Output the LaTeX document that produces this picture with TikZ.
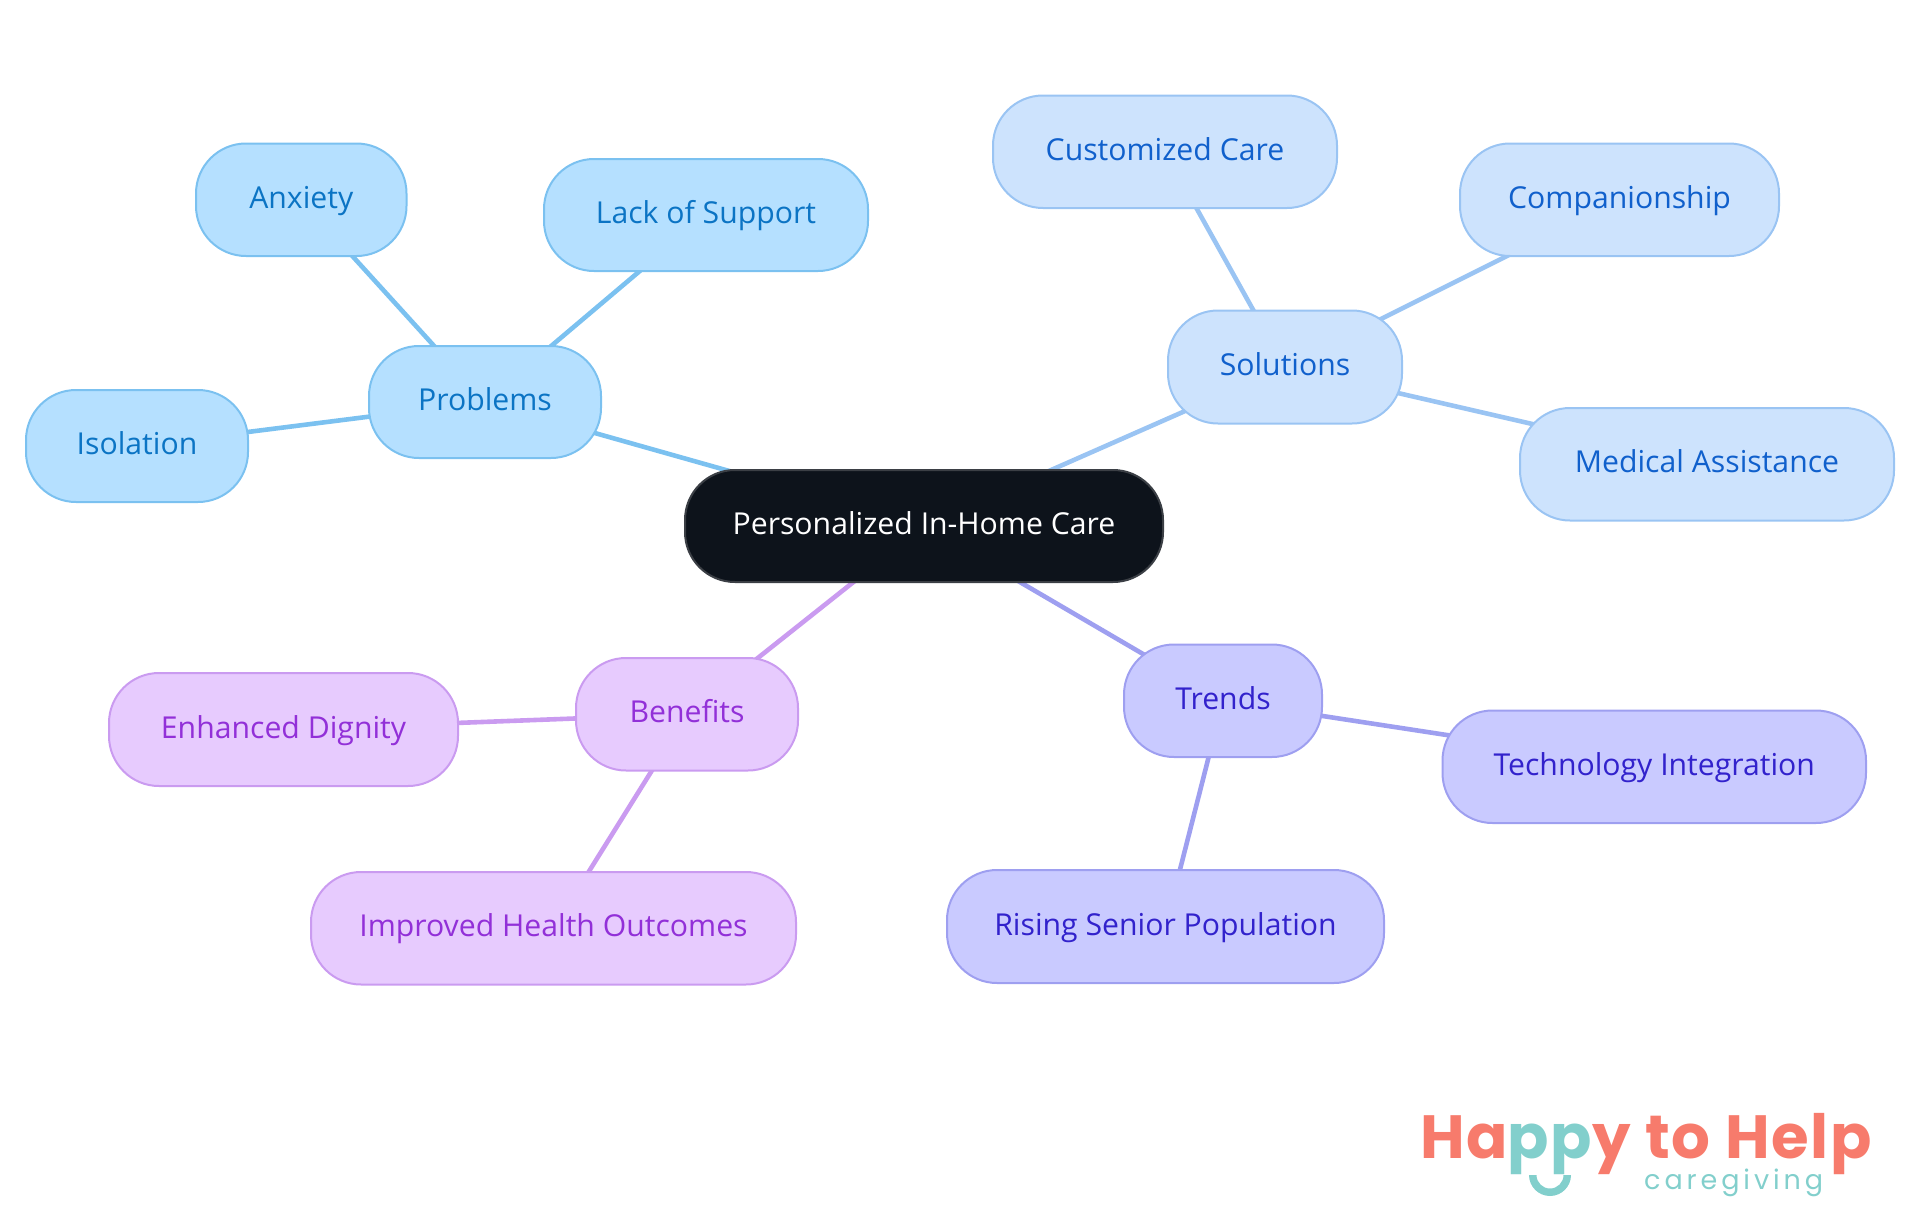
\documentclass[tikz,border=0pt]{standalone}
\usepackage{fontspec}
\setmainfont{Open Sans}
\newfontfamily\logofont[LetterSpace=2.7]{Poppins}
\newfontfamily\carefont[LetterSpace=14.5]{Poppins}
\usetikzlibrary{backgrounds}
\definecolor{rootfill}{HTML}{0D131B}\definecolor{rootline}{HTML}{3B3F45}
\definecolor{pfill}{HTML}{B5E0FF}\definecolor{pline}{HTML}{7BC1F0}\definecolor{ptext}{HTML}{0B74C4}
\definecolor{sfill}{HTML}{CDE3FD}\definecolor{sline}{HTML}{9AC4F3}\definecolor{stext}{HTML}{1060CC}
\definecolor{tfill}{HTML}{C9CAFF}\definecolor{tline}{HTML}{9E9FF0}\definecolor{ttext}{HTML}{3222CC}
\definecolor{bfill}{HTML}{E7CBFE}\definecolor{bline}{HTML}{CA9BF0}\definecolor{btext}{HTML}{9230D8}
\definecolor{salmon}{HTML}{F77B6C}\definecolor{teal}{HTML}{82CFCC}
\tikzset{
 pill/.style={rounded corners=50pt,line width=2pt,inner sep=0pt,text height=26pt,text depth=9pt,font=\fontsize{30.2}{34}\selectfont,anchor=center},
 rootpill/.style={pill,fill=rootfill,draw=rootline,text=white},
 ppill/.style={pill,fill=pfill,draw=pline,text=ptext},
 spill/.style={pill,fill=sfill,draw=sline,text=stext},
 tpill/.style={pill,fill=tfill,draw=tline,text=ttext},
 bpill/.style={pill,fill=bfill,draw=bline,text=btext},
 link/.style={line width=4.6pt},
}
\newcommand{\pillnode}[7]{\node[#2,minimum width=#5pt-#3pt,minimum height=#7pt-#6pt] (#1) at ({(#3+#5)/2},{(#6+#7)/2}) {#4};}
\begin{document}
\begin{tikzpicture}[x=1pt,y=-1pt]
\useasboundingbox (0,0) rectangle (1920,1215);
\pillnode{root}{rootpill}{685}{Personalized In-Home Care}{1163}{470}{582}
\pillnode{problems}{ppill}{369}{Problems}{601}{346}{458}
\pillnode{isolation}{ppill}{26}{Isolation}{248}{390}{502}
\pillnode{anxiety}{ppill}{196}{Anxiety}{406.5}{143.5}{256}
\pillnode{lack}{ppill}{544}{Lack of Support}{868}{159}{271}
\pillnode{solutions}{spill}{1168}{Solutions}{1402}{310.5}{423.5}
\pillnode{custom}{spill}{993}{Customized Care}{1337}{95.5}{208}
\pillnode{companion}{spill}{1460}{Companionship}{1779}{143.5}{256}
\pillnode{medical}{spill}{1520}{Medical Assistance}{1894}{408}{520.5}
\pillnode{trends}{tpill}{1124}{Trends}{1322}{644.5}{757}
\pillnode{tech}{tpill}{1442.5}{Technology Integration}{1866}{710.5}{823}
\pillnode{rising}{tpill}{947}{Rising Senior Population}{1384}{870}{983}
\pillnode{benefits}{bpill}{576}{Benefits}{798}{658}{770.5}
\pillnode{dignity}{bpill}{109}{Enhanced Dignity}{458}{673}{786}
\pillnode{improved}{bpill}{311}{Improved Health Outcomes}{796}{872}{984.5}
\begin{pgfonlayer}{background}
\draw[link,pline] (root.center) -- (problems.center);
\draw[link,pline] (problems.center) -- (isolation.center);
\draw[link,pline] (problems.center) -- (anxiety.center);
\draw[link,pline] (problems.center) -- (lack.center);
\draw[link,sline] (root.center) -- (solutions.center);
\draw[link,sline] (solutions.center) -- (custom.center);
\draw[link,sline] (solutions.center) -- (companion.center);
\draw[link,sline] (solutions.center) -- (medical.center);
\draw[link,tline] (root.center) -- (trends.center);
\draw[link,tline] (trends.center) -- (tech.center);
\draw[link,tline] (trends.center) -- (rising.center);
\draw[link,bline] (root.center) -- (benefits.center);
\draw[link,bline] (benefits.center) -- (dignity.center);
\draw[link,bline] (benefits.center) -- (improved.center);
\end{pgfonlayer}
\node[anchor=base west,inner sep=0pt,font=\logofont\bfseries\fontsize{61}{61}\selectfont,text=salmon] (logo) at (1420,1158) {Ha{\color{teal}pp}y to Help};
\node[anchor=base west,inner sep=0pt,font=\carefont\fontsize{27}{27}\selectfont,text=teal] (care) at (1644,1189) {caregiving};
\fill[teal] (1529,1175) arc[start angle=180,end angle=0,radius=21] -- (1563.5,1175) arc[start angle=0,end angle=180,radius=13.5] -- cycle;
\end{tikzpicture}
\end{document}
